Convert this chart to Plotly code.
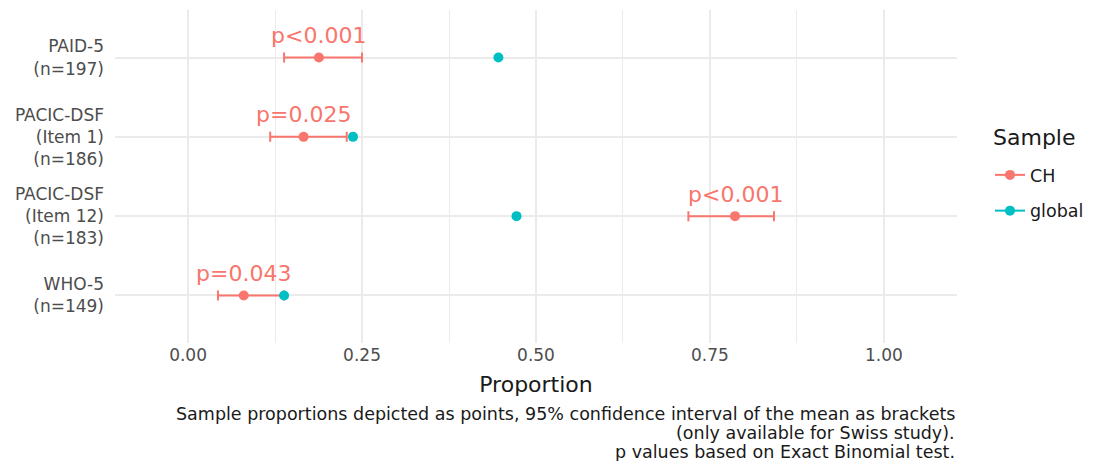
import plotly.graph_objects as go

categories = ["PAID-5<br>(n=197)", "PACIC-DSF<br>(Item 1)<br>(n=186)",
              "PACIC-DSF<br>(Item 12)<br>(n=183)", "WHO-5<br>(n=149)"]
ch_prop = [0.188, 0.166, 0.786, 0.080]
ch_lower = [0.138, 0.118, 0.719, 0.043]
ch_upper = [0.250, 0.228, 0.842, 0.138]
global_prop = [0.446, 0.237, 0.472, 0.138]
p_labels = ["p<0.001", "p=0.025", "p<0.001", "p=0.043"]
x_ticks = [0, 0.25, 0.5, 0.75, 1.0]
x_ticklabels = ["0.00", "0.25", "0.50", "0.75", "1.00"]
caption_lines = ["Sample proportions depicted as points, 95% confidence interval of the mean as brackets",
                 "(only available for Swiss study).",
                 "p values based on Exact Binomial test."]

CH_COL = "#F8766D"
GL_COL = "#00BFC4"
FONT = "DejaVu Sans"
TXT = "#1a1a1a"

ypos = list(range(len(categories), 0, -1))

fig = go.Figure()
fig.add_trace(go.Scatter(
    x=ch_prop, y=ypos, mode="markers", name="CH", showlegend=False,
    marker=dict(color=CH_COL, size=10),
    error_x=dict(type="data", symmetric=False,
                 array=[u - p for u, p in zip(ch_upper, ch_prop)],
                 arrayminus=[p - l for p, l in zip(ch_prop, ch_lower)],
                 color=CH_COL, thickness=2, width=5),
))
fig.add_trace(go.Scatter(
    x=global_prop, y=ypos, mode="markers", name="global", showlegend=False,
    marker=dict(color=GL_COL, size=10),
))
# legend entries
fig.add_trace(go.Scatter(x=[None], y=[None], mode="lines+markers", name="CH",
                         legendgroup="a",
                         line=dict(color=CH_COL, width=2), marker=dict(color=CH_COL, size=10)))
fig.add_trace(go.Scatter(x=[None], y=[None], mode="lines+markers", name="global",
                         legendgroup="b",
                         line=dict(color=GL_COL, width=2), marker=dict(color=GL_COL, size=10)))

for x, y, t in zip(ch_prop, ypos, p_labels):
    fig.add_annotation(x=x, y=y, text=t, showarrow=False, yshift=22,
                       font=dict(size=22, color=CH_COL, family=FONT))

# legend title
fig.add_annotation(xref="paper", yref="paper", x=(991 - 115) / 842, y=(343 - 137) / 333,
                   xanchor="left", yanchor="middle", showarrow=False, text="Sample",
                   font=dict(size=22, color=TXT, family=FONT))

# caption
for i, line in enumerate(caption_lines):
    fig.add_annotation(xref="paper", yref="paper", x=1, y=(343 - 414) / 333, yshift=-19 * i,
                       xanchor="right", yanchor="middle", showarrow=False, text=line,
                       font=dict(size=17.5, color=TXT, family=FONT))

fig.update_layout(
    width=1104, height=461,
    margin=dict(l=115, r=147, t=10, b=118),
    paper_bgcolor="white", plot_bgcolor="white",
    font=dict(family=FONT, color=TXT),
    legend=dict(x=(990 - 115) / 842, y=(343 - 157) / 333, xanchor="left", yanchor="top",
                font=dict(size=17.5, color=TXT), tracegroupgap=10,
                bgcolor="rgba(0,0,0,0)"),
    xaxis=dict(range=[-0.105, 1.105], tickvals=x_ticks, ticktext=x_ticklabels,
               showgrid=True, gridcolor="#EBEBEB", gridwidth=2, zeroline=False,
               showline=False, ticks="",
               tickfont=dict(size=17, color="#4D4D4D"),
               title=dict(text="Proportion", font=dict(size=22, color=TXT), standoff=12),
               minor=dict(tick0=0.125, dtick=0.25, showgrid=True, gridcolor="#EBEBEB", gridwidth=1)),
    yaxis=dict(range=[0.4, len(categories) + 0.6], tickvals=ypos, ticktext=categories,
               showgrid=True, gridcolor="#EBEBEB", gridwidth=2, zeroline=False,
               showline=False, ticks="", ticklabelstandoff=10,
               tickfont=dict(size=17, color="#4D4D4D")),
)

fig.write_html("out.html")
